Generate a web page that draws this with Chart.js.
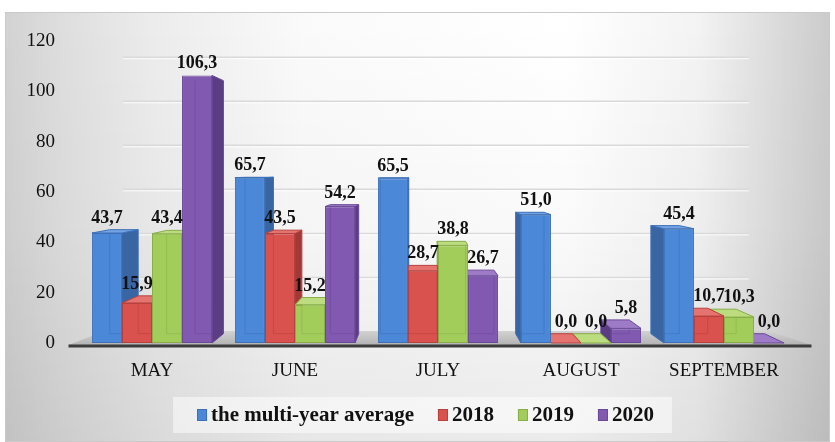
<!DOCTYPE html>
<html>
<head>
<meta charset="utf-8">
<script src="https://cdn.jsdelivr.net/npm/chart.js@4.4.1/dist/chart.umd.min.js"></script>
<style>
  html, body { margin: 0; padding: 0; background: #ffffff; }
  canvas { display: block; }
</style>
</head>
<body>
<canvas id="rainChart" width="835" height="442"></canvas>
<script>
// months and series values (mm)
var months = ['MAY', 'JUNE', 'JULY', 'AUGUST', 'SEPTEMBER'];
var seriesNames = ['the multi-year average', '2018', '2019', '2020'];
var avgValues = [43.7, 65.7, 65.5, 51.0, 45.4];
var values2018 = [15.9, 43.5, 28.7, 0.0, 10.7];
var values2019 = [43.4, 15.2, 38.8, 0.0, 10.3];
var values2020 = [106.3, 54.2, 26.7, 5.8, 0.0];
var yTicks = [0, 20, 40, 60, 80, 100, 120];

// face colours for each series: front, side, top, edge
var looks = [
    { front: '#4c88d8', side: '#3a65a3', top: '#74a3e4', edge: '#3d70b8' },
    { front: '#d9524e', side: '#a23936', top: '#e5736f', edge: '#b8403d' },
    { front: '#a3cd5b', side: '#7c9d42', top: '#bcdc7f', edge: '#87ae47' },
    { front: '#8259b1', side: '#5b3d84', top: '#9d7bc6', edge: '#6a4898' }
];

// depth factors toward the vanishing point
var BAR_DEPTH = 0.946;
var FLOOR_DEPTH = 0.93;
var WALL_DEPTH = 0.875;

function vanishing(chart) {
    var a = chart.chartArea;
    return { x: a.left + a.width * 0.478, y: a.top + a.height * 0.43 };
}

function project(chart, x, y, depth) {
    var v = vanishing(chart);
    return [v.x + (x - v.x) * depth, v.y + (y - v.y) * depth];
}

function formatValue(v) {
    return v.toFixed(1).replace('.', ',');
}

function polygon(ctx, pts, fill, stroke) {
    ctx.beginPath();
    ctx.moveTo(pts[0][0], pts[0][1]);
    for (var i = 1; i < pts.length; i++) {
        ctx.lineTo(pts[i][0], pts[i][1]);
    }
    ctx.closePath();
    ctx.fillStyle = fill;
    ctx.fill();
    if (stroke) {
        ctx.strokeStyle = stroke;
        ctx.lineWidth = 1;
        ctx.stroke();
    }
}

function eachBar(chart, fn) {
    chart.data.datasets.forEach(function (ds, i) {
        chart.getDatasetMeta(i).data.forEach(function (bar, j) {
            fn(bar, i, j, ds);
        });
    });
}

// background panel, back wall grid and the floor
var backdrop = {
    id: 'backdrop',
    beforeDraw: function (chart) {
        var ctx = chart.ctx;
        var w = chart.width, h = chart.height;
        var a = chart.chartArea;
        var y = chart.scales.y;

        ctx.save();
        ctx.fillStyle = '#ffffff';
        ctx.fillRect(0, 0, w, h);

        var g = ctx.createLinearGradient(5, 0, w - 5, 0);
        g.addColorStop(0, '#d2d2d2');
        g.addColorStop(0.07, '#dedede');
        g.addColorStop(0.18, '#ececec');
        g.addColorStop(0.36, '#fafafa');
        g.addColorStop(0.68, '#ffffff');
        g.addColorStop(0.84, '#f3f3f3');
        g.addColorStop(1, '#cbcbcb');
        ctx.fillStyle = g;
        ctx.fillRect(5, 12, w - 10, h - 13);

        var shade = ctx.createLinearGradient(0, 12, 0, h);
        shade.addColorStop(0, 'rgba(0,0,0,0)');
        shade.addColorStop(0.5, 'rgba(0,0,0,0.02)');
        shade.addColorStop(1, 'rgba(0,0,0,0.08)');
        ctx.fillStyle = shade;
        ctx.fillRect(5, 12, w - 10, h - 13);

        ctx.strokeStyle = '#cacaca';
        ctx.lineWidth = 1;
        ctx.strokeRect(5.5, 12.5, w - 11, h - 13);

        // gridlines sit on the back wall
        yTicks.forEach(function (t) {
            if (t === 0) return;
            var py = y.getPixelForValue(t);
            var p1 = project(chart, a.left, py, WALL_DEPTH);
            var p2 = project(chart, a.right, py, WALL_DEPTH);
            ctx.beginPath();
            ctx.moveTo(p1[0], p1[1]);
            ctx.lineTo(p2[0], p2[1]);
            ctx.strokeStyle = '#d9d9d9';
            ctx.lineWidth = 1.5;
            ctx.stroke();
            ctx.beginPath();
            ctx.moveTo(p1[0], p1[1] + 1.5);
            ctx.lineTo(p2[0], p2[1] + 1.5);
            ctx.strokeStyle = 'rgba(255,255,255,0.9)';
            ctx.lineWidth = 1;
            ctx.stroke();
        });

        // floor
        var base = y.getPixelForValue(0);
        var fl = a.left - 12, fr = a.right + 16;
        var bl = project(chart, a.left, base, FLOOR_DEPTH);
        var br = project(chart, a.right, base, FLOOR_DEPTH);
        var fg = ctx.createLinearGradient(0, bl[1], 0, base + 2);
        fg.addColorStop(0, '#d2d2d2');
        fg.addColorStop(1, '#b3b3b3');
        polygon(ctx, [bl, br, [fr, base + 2], [fl, base + 2]], fg);

        ctx.beginPath();
        ctx.moveTo(fl, base + 3);
        ctx.lineTo(fr, base + 3);
        ctx.strokeStyle = '#3c3c3c';
        ctx.lineWidth = 3;
        ctx.stroke();
        ctx.restore();
    }
};

// side and top faces behind the front of every bar,
// plus the back edges showing through the glassy fronts
var bars3d = {
    id: 'bars3d',
    beforeDatasetsDraw: function (chart) {
        var ctx = chart.ctx;
        var v = vanishing(chart);
        var list = [];
        eachBar(chart, function (bar, i) {
            list.push({ bar: bar, look: looks[i] });
        });
        // far-out bars first, so the inner ones overlap them
        list.sort(function (p, q) {
            return Math.abs(q.bar.x - v.x) - Math.abs(p.bar.x - v.x);
        });

        ctx.save();
        list.forEach(function (item) {
            var p = item.bar.getProps(['x', 'y', 'base', 'width'], true);
            var l = p.x - p.width / 2, r = p.x + p.width / 2;
            var tl = project(chart, l, p.y, BAR_DEPTH);
            var tr = project(chart, r, p.y, BAR_DEPTH);
            var bR = project(chart, r, p.base, BAR_DEPTH);
            var bL = project(chart, l, p.base, BAR_DEPTH);
            if (tr[0] > r) {
                polygon(ctx, [[r, p.y], tr, bR, [r, p.base]], item.look.side, item.look.edge);
            }
            if (tl[0] < l) {
                polygon(ctx, [[l, p.y], tl, bL, [l, p.base]], item.look.side, item.look.edge);
            }
            if (tl[1] < p.y) {
                polygon(ctx, [[l, p.y], [r, p.y], tr, tl], item.look.top, item.look.edge);
            }
        });
        ctx.restore();
    },
    afterDatasetsDraw: function (chart) {
        var ctx = chart.ctx;
        ctx.save();
        ctx.lineWidth = 1;
        eachBar(chart, function (bar, i) {
            var p = bar.getProps(['x', 'y', 'base', 'width'], true);
            if (p.base - p.y < 4) return;
            var l = p.x - p.width / 2, r = p.x + p.width / 2;
            var tl = project(chart, l, p.y, BAR_DEPTH);
            var bR = project(chart, r, p.base, BAR_DEPTH);
            ctx.save();
            ctx.beginPath();
            ctx.rect(l + 1, p.y + 1, p.width - 2, p.base - p.y - 2);
            ctx.clip();
            ctx.strokeStyle = looks[i].edge;
            ctx.globalAlpha = 0.55;
            ctx.beginPath();
            ctx.moveTo(tl[0], tl[1]);
            ctx.lineTo(tl[0], bR[1]);
            ctx.lineTo(bR[0], bR[1]);
            ctx.lineTo(bR[0], tl[1]);
            ctx.stroke();
            ctx.restore();
        });
        ctx.restore();
    }
};

// value labels above the bars
var valueLabels = {
    id: 'valueLabels',
    afterDatasetsDraw: function (chart) {
        var ctx = chart.ctx;
        ctx.save();
        ctx.font = 'bold 18px "Liberation Serif", serif';
        ctx.fillStyle = '#111111';
        ctx.textAlign = 'center';
        ctx.textBaseline = 'alphabetic';
        eachBar(chart, function (bar, i, j, ds) {
            var p = bar.getProps(['x', 'y'], true);
            var back = project(chart, p.x, p.y, BAR_DEPTH);
            var top = Math.min(p.y, back[1]);
            ctx.fillText(formatValue(ds.data[j]), p.x, top - 7);
        });
        ctx.restore();
    }
};

// legend strip under the axis
var legendBox = {
    id: 'legendBox',
    afterDraw: function (chart) {
        var ctx = chart.ctx;
        ctx.save();
        ctx.font = 'bold 21px "Liberation Serif", serif';
        var widths = seriesNames.map(function (n) { return ctx.measureText(n).width; });
        var mark = 10, gap = 4, spacing = 24;
        var total = spacing * (seriesNames.length - 1);
        widths.forEach(function (w) { total += mark + gap + w; });
        var cx = chart.width / 2 + 8;
        var x = cx - total / 2;
        var cy = 415;

        ctx.fillStyle = 'rgba(255,255,255,0.5)';
        ctx.fillRect(x - 24, 397, total + 42, 36);

        ctx.textAlign = 'left';
        ctx.textBaseline = 'middle';
        seriesNames.forEach(function (name, i) {
            ctx.fillStyle = looks[i].front;
            ctx.fillRect(x, cy - 6, mark, 12);
            ctx.strokeStyle = looks[i].edge;
            ctx.lineWidth = 1;
            ctx.strokeRect(x + 0.5, cy - 5.5, mark - 1, 11);
            ctx.fillStyle = '#111111';
            ctx.fillText(name, x + mark + gap, cy + 1);
            x += mark + gap + widths[i] + spacing;
        });
        ctx.restore();
    }
};

var tickFont = { family: '"Liberation Serif", serif', size: 19 };

var rainChart = new Chart(document.getElementById('rainChart'), {
    type: 'bar',
    data: {
        labels: months,
        datasets: [avgValues, values2018, values2019, values2020].map(function (vals, i) {
            return {
                label: seriesNames[i],
                data: vals,
                backgroundColor: looks[i].front,
                borderColor: looks[i].edge,
                borderWidth: 1,
                borderSkipped: false,
                categoryPercentage: 0.84,
                barPercentage: 1
            };
        })
    },
    options: {
        responsive: false,
        animation: false,
        layout: {
            padding: { top: 41, left: 1, right: 39.5, bottom: 43 }
        },
        scales: {
            x: {
                grid: { display: false, drawTicks: false },
                border: { display: false },
                ticks: {
                    font: tickFont,
                    color: '#111111',
                    padding: 16.6,
                    maxRotation: 0,
                    autoSkip: false
                }
            },
            y: {
                min: 0,
                max: 120,
                afterBuildTicks: function (scale) {
                    scale.ticks = yTicks.map(function (v) { return { value: v }; });
                },
                grid: { display: false, drawTicks: false },
                border: { display: false },
                ticks: {
                    font: tickFont,
                    color: '#111111',
                    padding: 25.5
                }
            }
        },
        plugins: {
            legend: { display: false },
            tooltip: { enabled: false }
        }
    },
    plugins: [backdrop, bars3d, valueLabels, legendBox]
});
</script>
</body>
</html>
